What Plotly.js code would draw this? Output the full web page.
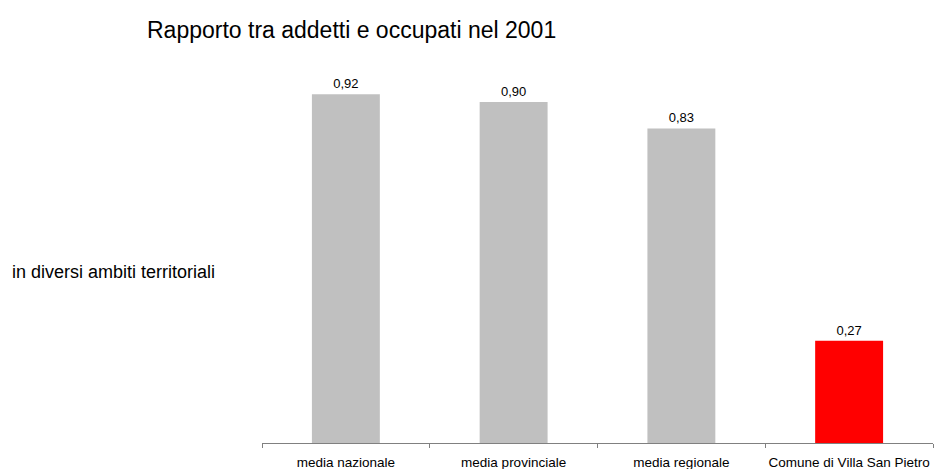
<!DOCTYPE html>
<html>
<head>
<meta charset="utf-8">
<script src="https://cdn.plot.ly/plotly-3.0.1.min.js"></script>
<style>html,body{margin:0;padding:0;background:#fff}#chart{width:934px;height:469px}</style>
</head>
<body>
<div id="chart"></div>
<script>
const categories = ["media nazionale", "media provinciale", "media regionale", "Comune di Villa San Pietro"];
const values = [0.92, 0.90, 0.83, 0.27];
const barColors = ["#c0c0c0", "#c0c0c0", "#c0c0c0", "#ff0000"];
const valueLabels = values.map(v => v.toFixed(2).replace('.', ','));

const font = "Liberation Sans, Arial, sans-serif";

const trace = {
  type: "bar",
  x: categories,
  y: values,
  marker: {color: barColors, line: {width: 0}},
  text: valueLabels,
  textposition: "outside",
  textfont: {family: font, size: 13, color: "#000"},
  cliponaxis: false,
  hoverinfo: "none"
};

const layout = {
  width: 934, height: 469,
  margin: {l: 262, r: 1, t: 64, b: 26},
  paper_bgcolor: "#fff", plot_bgcolor: "#fff",
  bargap: 0.595,
  showlegend: false,
  font: {family: font, color: "#000"},
  title: {
    text: "Rapporto tra addetti e occupati nel 2001",
    font: {family: font, size: 23, color: "#000"},
    xref: "container", x: 147/934, xanchor: "left",
    yref: "container", y: 1 - 30/469, yanchor: "middle"
  },
  xaxis: {
    showline: true, linecolor: "#808080", linewidth: 1,
    ticks: "outside", tickson: "boundaries", ticklen: 4, tickcolor: "#808080",
    tickfont: {family: font, size: 13.5, color: "#000"},
    tickangle: 0,
    ticklabelstandoff: 7,
    automargin: false,
    showgrid: false, zeroline: false, fixedrange: true
  },
  yaxis: {
    range: [0, 1], visible: false, showgrid: false, zeroline: false, fixedrange: true
  },
  annotations: [{
    text: "in diversi ambiti territoriali",
    xref: "paper", yref: "paper",
    x: (10 - 262) / 671, xanchor: "left",
    y: 1 - (272 - 64) / 379, yanchor: "middle",
    showarrow: false,
    font: {family: font, size: 18, color: "#000"}
  }]
};

Plotly.newPlot("chart", [trace], layout, {staticPlot: true, displayModeBar: false});
</script>
</body>
</html>
